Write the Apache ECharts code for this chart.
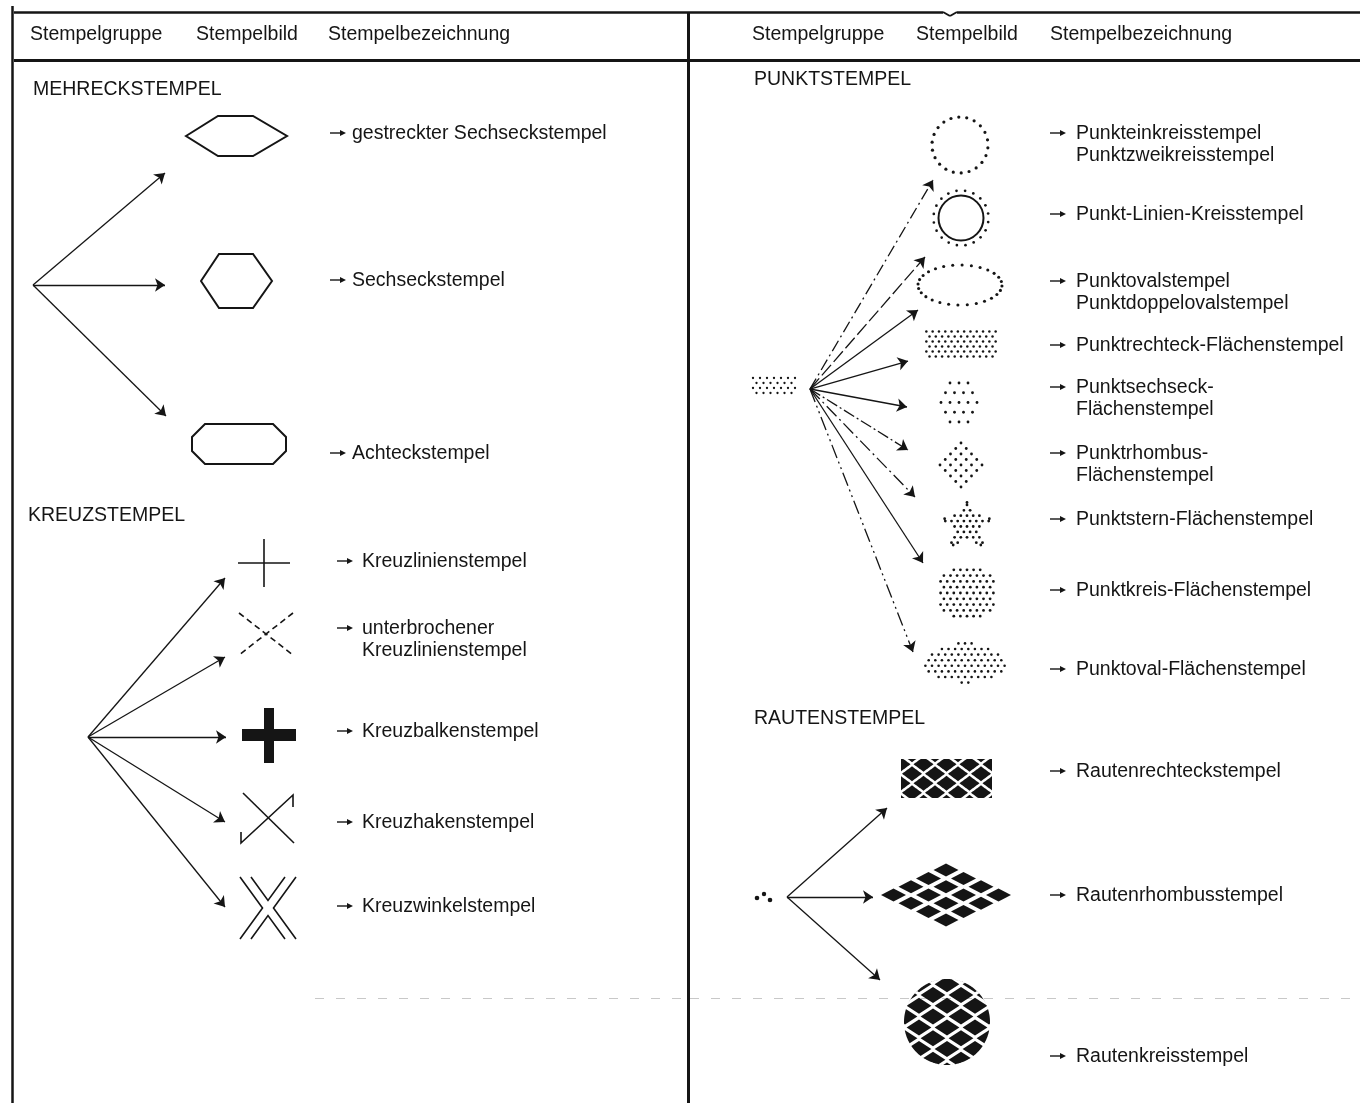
<!DOCTYPE html>
<html><head><meta charset="utf-8">
<script src="https://cdn.jsdelivr.net/npm/echarts@6/dist/echarts.min.js"></script>
<style>html,body{margin:0;padding:0;background:#fff}#c{width:1360px;height:1103px}</style>
</head><body><div id="c"></div>
<script>
// ================= DATA =================
const headerLabels = ['Stempelgruppe', 'Stempelbild', 'Stempelbezeichnung'];
const groupTitles = ['MEHRECKSTEMPEL', 'KREUZSTEMPEL', 'PUNKTSTEMPEL', 'RAUTENSTEMPEL'];

const mehreckNames = [['gestreckter Sechseckstempel'], ['Sechseckstempel'], ['Achteckstempel']];
const mehreckShapes = ['hexWide', 'hex', 'octagon'];

const kreuzNames = [['Kreuzlinienstempel'], ['unterbrochener', 'Kreuzlinienstempel'], ['Kreuzbalkenstempel'], ['Kreuzhakenstempel'], ['Kreuzwinkelstempel']];
const kreuzShapes = ['crossLine', 'crossDashed', 'crossBar', 'crossHook', 'crossDouble'];

const punktNames = [['Punkteinkreisstempel', 'Punktzweikreisstempel'], ['Punkt-Linien-Kreisstempel'], ['Punktovalstempel', 'Punktdoppelovalstempel'], ['Punktrechteck-Flächenstempel'], ['Punktsechseck-', 'Flächenstempel'], ['Punktrhombus-', 'Flächenstempel'], ['Punktstern-Flächenstempel'], ['Punktkreis-Flächenstempel'], ['Punktoval-Flächenstempel']];
const punktShapes = ['dotCircle', 'dotLineCircle', 'dotOval', 'dotRect', 'dotHex', 'dotRhombus', 'dotStar', 'dotDisc', 'dotOvalFill'];

const rautenNames = [['Rautenrechteckstempel'], ['Rautenrhombusstempel'], ['Rautenkreisstempel']];
const rautenShapes = ['diamondRect', 'diamondRhombus', 'diamondDisc'];

// ================= LAYOUT (page coordinates, 1360 x 1103) =================
const INK = '#151515';
const FONT = '"Liberation Sans", Arial, sans-serif';
const FS = 19.5;
const TEXT_DY = 1.5;
const LINE_GAP = 22;
const headerX = [[30, 196, 328], [752, 916, 1050]];
const headerY = 33;

const solid = 'solid';
const groups = [
  { names: mehreckNames, shapes: mehreckShapes, title: groupTitles[0], titlePos: [33, 88],
    origin: [33, 285], shapeX: [236.5, 236.5, 239], shapeY: [136, 281, 444],
    arrowEnds: [[165, 173], [165, 285], [166, 416]], dash: [solid, solid, solid],
    arrowX: 330, textX: 352, labelY: [132, 279, 452] },
  { names: kreuzNames, shapes: kreuzShapes, title: groupTitles[1], titlePos: [28, 514],
    origin: [88, 737], shapeX: [264, 266, 269, 268, 268], shapeY: [563, 634, 735, 818, 908],
    arrowEnds: [[225, 578], [225, 657], [226, 737], [225, 822], [225, 907]], dash: [solid, solid, solid, solid, solid],
    arrowX: 337, textX: 362, labelY: [560, 627, 730, 821, 905] },
  { names: punktNames, shapes: punktShapes, title: groupTitles[2], titlePos: [754, 78],
    origin: [810, 389], shapeX: [960, 961, 960, 961, 959, 961, 967, 967, 965], shapeY: [145, 218, 285, 344, 402.5, 465, 526, 593, 663],
    arrowEnds: [[933, 180], [925, 257], [918, 310], [908, 361], [907, 407], [908, 450], [915, 497], [923, 563], [913, 652]],
    dash: [[12, 4, 2, 4], [14, 4], solid, solid, solid, [12, 3, 2, 3], [14, 4, 2, 4], solid, [14, 4, 2, 4, 2, 4]],
    arrowX: 1050, textX: 1076, labelY: [132, 213, 280, 344, 386, 452, 518, 589, 668] },
  { names: rautenNames, shapes: rautenShapes, title: groupTitles[3], titlePos: [754, 717],
    origin: [787, 897], shapeX: [946.5, 946, 947], shapeY: [778.5, 895, 1022],
    arrowEnds: [[887, 808], [873, 897], [880, 980]], dash: [solid, solid, solid],
    arrowX: 1050, textX: 1076, labelY: [770, 894, 1055] }
];

// frame rules
const frameSegs = [
  { c: [[12, 6], [12, 1103]], w: 2.5 },
  { c: [[14, 12], [688, 12]], w: 2.5 },
  { c: [[688, 12], [943, 12]], w: 2.5 },
  { c: [[957, 12], [1360, 12]], w: 2.5 },
  { c: [[943, 12], [950, 16]], w: 2 },
  { c: [[950, 16], [957, 12]], w: 2 },
  { c: [[14, 60], [1360, 60]], w: 3 },
  { c: [[688, 12], [688, 1103]], w: 3 }
];

// ================= BUILD =================
const texts = [];
headerX.forEach(xs => headerLabels.forEach((t, i) => texts.push({ x: xs[i], y: headerY, text: t })));
const shapeItems = [];
groups.forEach(g => {
  texts.push({ x: g.titlePos[0], y: g.titlePos[1], text: g.title });
  g.names.forEach((lines, i) => {
    shapeItems.push({ value: [g.arrowX, g.labelY[i] + 1], kind: 'labelArrow' });
    lines.forEach((ln, k) => texts.push({ x: g.textX, y: g.labelY[i] + k * LINE_GAP, text: ln }));
  });
  g.shapes.forEach((k, i) => shapeItems.push({ value: [g.shapeX[i], g.shapeY[i]], kind: k }));
});
shapeItems.push({ value: [774, 385.5], kind: 'srcDotRect' });
shapeItems.push({ value: [763, 897], kind: 'srcDots' });

const arrowData = [];
groups.forEach(g => g.arrowEnds.forEach((e, i) => arrowData.push({
  coords: [g.origin, e], lineStyle: { type: g.dash[i] }
})));

const frameData = frameSegs.map(s => ({ coords: s.c, lineStyle: { width: s.w } }));
const faintData = [{ coords: [[315, 998], [688, 998]] }, { coords: [[690, 998], [1360, 998]] }];

// ================= SHAPE BUILDERS =================
const lineEl = (a, b, w, dash) => ({ type: 'line', shape: { x1: a[0], y1: a[1], x2: b[0], y2: b[1] }, style: { stroke: INK, lineWidth: w || 1.6, lineDash: dash || null } });
const polyEl = (pts, w) => ({ type: 'polygon', shape: { points: pts }, style: { fill: null, stroke: INK, lineWidth: w || 2 } });
const fillPoly = pts => ({ type: 'polygon', shape: { points: pts }, style: { fill: INK } });
const plineEl = (pts, w) => ({ type: 'polyline', shape: { points: pts }, style: { fill: null, stroke: INK, lineWidth: w || 1.6 } });
const dot = (p, r) => ({ type: 'circle', shape: { cx: p[0], cy: p[1], r: r }, style: { fill: INK } });

function ringDots(P, rx, ry, n, r, phase) {
  const out = [];
  for (let i = 0; i < n; i++) {
    const a = (phase || 0) + 2 * Math.PI * i / n;
    out.push(dot(P(rx * Math.cos(a), ry * Math.sin(a)), r));
  }
  return out;
}
function latticeDots(P, s, rowH, ext, inside, r, y0) {
  const out = [];
  const nr = Math.ceil(ext / rowH) + 1, nc = Math.ceil(ext / s) + 1;
  for (let j = -nr; j <= nr; j++) {
    const off = (j & 1) ? s / 2 : 0;
    for (let i = -nc; i <= nc; i++) {
      const x = i * s + off, y = j * rowH + (y0 || 0);
      if (inside(x, y)) out.push(dot(P(x, y), r));
    }
  }
  return out;
}
function inPoly(x, y, pts) {
  let c = false;
  for (let i = 0, j = pts.length - 1; i < pts.length; j = i++) {
    const xi = pts[i][0], yi = pts[i][1], xj = pts[j][0], yj = pts[j][1];
    if (((yi > y) !== (yj > y)) && (x < (xj - xi) * (y - yi) / (yj - yi) + xi)) c = !c;
  }
  return c;
}
// diamond lattice clipped to a region: clampFn maps an outside point onto the region boundary
function diamondField(P, P0, rowH, hw, hh, ext, inside, clampFn) {
  const out = [];
  const nr = Math.ceil(ext / rowH) + 1, nc = Math.ceil(ext / P0) + 1;
  for (let j = -nr; j <= nr; j++) {
    const y = (j + 0.5) * rowH;
    const off = (j & 1) ? P0 / 2 : 0;
    for (let i = -nc; i <= nc; i++) {
      const x = i * P0 + off;
      const verts = [[x - hw, y], [x, y - hh], [x + hw, y], [x, y + hh]];
      const pts = [];
      let anyIn = false;
      for (let e = 0; e < 4; e++) {
        const a = verts[e], b = verts[(e + 1) % 4];
        for (let s = 0; s < 16; s++) {
          const t = s / 16;
          let px = a[0] + (b[0] - a[0]) * t, py = a[1] + (b[1] - a[1]) * t;
          if (inside(px, py)) anyIn = true; else { const q = clampFn(px, py); px = q[0]; py = q[1]; }
          pts.push(P(px, py));
        }
      }
      if (anyIn) out.push(fillPoly(pts));
    }
  }
  return out;
}

const builders = {
  labelArrow: P => [lineEl(P(0, 0), P(12, 0), 1.4), fillPoly([P(16, 0), P(10, -3), P(10, 3)])],

  hexWide: P => [polyEl([P(-50.5, 0), P(-18.5, -20), P(16.5, -20), P(50.5, 0), P(16.5, 20), P(-18.5, 20)])],
  hex: P => [polyEl([P(-35.5, 0), P(-17.5, -27), P(16.5, -27), P(35.5, 0), P(16.5, 27), P(-17.5, 27)])],
  octagon: P => [polyEl([P(-47, -7), P(-34, -20), P(34, -20), P(47, -7), P(47, 7), P(34, 20), P(-34, 20), P(-47, 7)])],

  crossLine: P => [lineEl(P(-26, 0), P(26, 0)), lineEl(P(0, -24), P(0, 24))],
  crossDashed: P => [lineEl(P(-27, -21), P(27, 21), 1.6, [6, 4]), lineEl(P(27, -21), P(-27, 21), 1.6, [6, 4])],
  crossBar: P => {
    const a = P(-5, -27), b = P(-27, -6);
    return [
      { type: 'rect', shape: { x: a[0], y: a[1], width: 10, height: 55 }, style: { fill: INK } },
      { type: 'rect', shape: { x: b[0], y: b[1], width: 54, height: 12 }, style: { fill: INK } }
    ];
  },
  crossHook: P => [lineEl(P(-25, -25), P(26, 25)), plineEl([P(-27, 14), P(-27, 25), P(25, -23), P(25, -11)])],
  crossDouble: P => [
    plineEl([P(-28, -31), P(-5.5, 0), P(-28, 31)]),
    plineEl([P(28, -31), P(5.5, 0), P(28, 31)]),
    plineEl([P(-17, -31), P(0, -7.6), P(17, -31)]),
    plineEl([P(-17, 31), P(0, 7.6), P(17, 31)])
  ],

  dotCircle: P => ringDots(P, 28, 28, 22, 1.6, 0.1),
  dotLineCircle: P => [{ type: 'circle', shape: { cx: P(0, 0)[0], cy: P(0, 0)[1], r: 22.5 }, style: { fill: null, stroke: INK, lineWidth: 2 } }].concat(ringDots(P, 27.5, 27.5, 20, 1.35, 0.15)),
  dotOval: P => ringDots(P, 42, 20, 28, 1.55, 0.05),
  dotRect: P => latticeDots(P, 6.3, 5, 40, (x, y) => Math.abs(x) <= 36 && Math.abs(y) <= 13, 1.25, 2.5),
  dotHex: P => {
    const out = [];
    for (let j = -2; j <= 2; j++) {
      const n = 5 - Math.abs(j);
      for (let i = 0; i < n; i++) out.push(dot(P((i - (n - 1) / 2) * 9, j * 9.75), 1.4));
    }
    return out;
  },
  dotRhombus: P => {
    const out = [];
    for (let j = -4; j <= 4; j++) {
      const n = 5 - Math.abs(j);
      for (let i = 0; i < n; i++) out.push(dot(P((i - (n - 1) / 2) * 10.5, j * 5.5), 1.4));
    }
    return out;
  },
  dotStar: P => {
    const pts = [];
    for (let i = 0; i < 10; i++) {
      const a = -Math.PI / 2 + i * Math.PI / 5, R = (i % 2) ? 14.5 : 28;
      pts.push([R * Math.cos(a), R * Math.sin(a)]);
    }
    const tips = [];
    for (let i = 0; i < 5; i++) {
      const a = -Math.PI / 2 + i * 2 * Math.PI / 5;
      tips.push(dot(P(23.5 * Math.cos(a), 23.5 * Math.sin(a)), 1.4));
    }
    return latticeDots(P, 6.2, 5.4, 30, (x, y) => inPoly(x, y, pts), 1.4, 0.5).concat(tips);
  },
  dotDisc: P => latticeDots(P, 6.6, 5.8, 34, (x, y) => x * x + y * y <= 29 * 29, 1.4),
  dotOvalFill: P => latticeDots(P, 6.6, 5.6, 46, (x, y) => (x * x) / (41 * 41) + (y * y) / (20 * 20) <= 1, 1.3, 2.8),

  srcDotRect: P => latticeDots(P, 7, 5, 26, (x, y) => Math.abs(x) <= 21.5 && Math.abs(y) <= 8, 1.15, 2.5),
  srcDots: P => [dot(P(-6, 1), 2.3), dot(P(1, -3), 2.2), dot(P(7, 3), 2.3)],

  diamondRect: P => diamondField(P, 23, 9.5, 10, 7.4, 50,
    (x, y) => Math.abs(x) <= 45.5 && Math.abs(y) <= 19.5,
    (x, y) => [Math.max(-45.5, Math.min(45.5, x)), Math.max(-19.5, Math.min(19.5, y))]),
  diamondRhombus: P => {
    const out = [];
    for (let i = 0; i < 4; i++) for (let j = 0; j < 4; j++) {
      const x = (i - j) * 17.5, y = (i + j - 3) * 8.3;
      out.push(fillPoly([P(x - 12.5, y), P(x, y - 6.5), P(x + 12.5, y), P(x, y + 6.5)]));
    }
    return out;
  },
  diamondDisc: P => diamondField(P, 28, 10.8, 12.4, 8, 50,
    (x, y) => x * x + y * y <= 43 * 43,
    (x, y) => { const d = Math.sqrt(x * x + y * y) || 1; return [x * 43 / d, y * 43 / d]; })
};

function renderShape(params, api) {
  const it = shapeItems[params.dataIndex];
  const c = api.coord([api.value(0), api.value(1)]);
  const u = api.size([1, 1]);
  const P = (dx, dy) => [c[0] + dx * u[0], c[1] + dy * u[1]];
  return { type: 'group', children: builders[it.kind](P) };
}
function renderText(params, api) {
  const t = texts[params.dataIndex];
  const c = api.coord([api.value(0), api.value(1)]);
  return { type: 'text', x: c[0], y: c[1] + TEXT_DY, style: { text: t.text, fill: INK, fontSize: FS, fontFamily: FONT, align: 'left', verticalAlign: 'middle' } };
}

// ================= CHART =================
const chart = echarts.init(document.getElementById('c'), null, { renderer: 'canvas' });
chart.setOption({
  backgroundColor: '#fff',
  animation: false,
  grid: { left: 0, right: 0, top: 0, bottom: 0, containLabel: false },
  xAxis: { type: 'value', min: 0, max: 1360, show: false },
  yAxis: { type: 'value', min: 0, max: 1103, inverse: true, show: false },
  series: [
    { type: 'lines', coordinateSystem: 'cartesian2d', symbol: ['none', 'none'], silent: true,
      lineStyle: { color: '#c8c8c8', width: 1, type: [9, 12], opacity: 1 }, data: faintData, z: 1 },
    { type: 'lines', coordinateSystem: 'cartesian2d', symbol: ['none', 'none'], silent: true,
      lineStyle: { color: INK, width: 2.5, opacity: 1 }, data: frameData, z: 2 },
    { type: 'lines', coordinateSystem: 'cartesian2d', symbol: ['none', 'arrow'], symbolSize: [1, 10], silent: true,
      lineStyle: { color: INK, width: 1.3, opacity: 1 }, itemStyle: { color: INK }, data: arrowData, z: 3 },
    { type: 'custom', coordinateSystem: 'cartesian2d', renderItem: renderShape, data: shapeItems, clip: false, silent: true, z: 4 },
    { type: 'custom', coordinateSystem: 'cartesian2d', renderItem: renderText, data: texts.map(t => [t.x, t.y]), clip: false, silent: true, z: 5 }
  ]
});
</script>
</body></html>
